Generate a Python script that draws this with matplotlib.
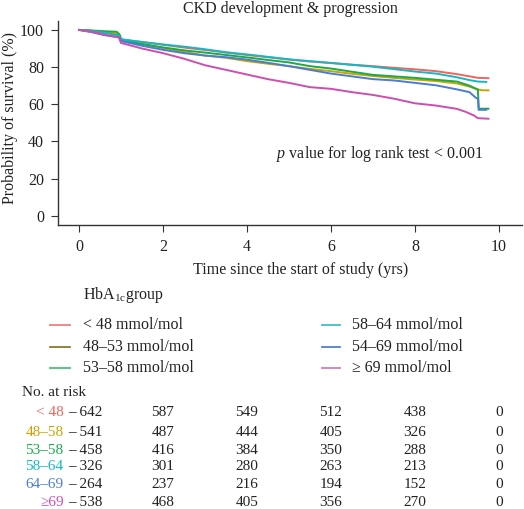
import matplotlib
matplotlib.use("Agg")
import matplotlib.pyplot as plt

plt.rcParams['font.family'] = ['Liberation Serif', 'DejaVu Serif']
plt.rcParams['mathtext.fontset'] = 'custom'
plt.rcParams['mathtext.rm'] = 'Liberation Serif'
plt.rcParams['mathtext.it'] = 'Liberation Serif:italic'

title = "CKD development & progression"
colors = ["#F0645A", "#C9A300", "#1BAA45", "#14B8C4", "#4B7BD6", "#CC4FAF"]
legend_colors = ["#F08080", "#8C7B2A", "#4CC07A", "#40C0C8", "#5080D0", "#D080C0"]
legend_labels = ["< 48 mmol/mol", "48–53 mmol/mol", "53–58 mmol/mol",
                 "58–64 mmol/mol", "54–69 mmol/mol", "≥ 69 mmol/mol"]
risk_labels = ["< 48", "48–58", "53–58", "58–64", "64–69", "≥69"]
risk_times = [0, 2, 4, 6, 8, 10]
risk_counts = [
    [642, 587, 549, 512, 438, 0],
    [541, 487, 444, 405, 326, 0],
    [458, 416, 384, 350, 288, 0],
    [326, 301, 280, 263, 213, 0],
    [264, 237, 216, 194, 152, 0],
    [538, 468, 405, 356, 270, 0],
]

# Kaplan-Meier points (time in years, survival in %)
t_red = [0, 0.3, 0.6, 0.95, 1.0, 1.5, 2.0, 2.5, 3.0, 3.5, 4.0, 4.5, 5.0, 5.5, 6.0, 6.5, 7.0, 7.5, 8.0, 8.5, 9.0, 9.3, 9.5, 9.75]
s_red = [100, 99.5, 98.5, 97.5, 94.8, 93.5, 92.0, 90.5, 89.2, 87.8, 86.5, 85.3, 84.0, 83.0, 82.2, 81.3, 80.5, 79.6, 78.8, 77.8, 76.2, 75.0, 74.2, 74.0]

t_gold = [0, 0.3, 0.6, 0.95, 1.0, 1.5, 2.0, 2.5, 3.0, 3.5, 4.0, 4.5, 5.0, 5.5, 6.0, 6.5, 7.0, 7.5, 8.0, 8.5, 9.0, 9.3, 9.5, 9.6, 9.75]
s_gold = [100, 99.5, 98.8, 98.0, 95.0, 92.5, 90.2, 88.2, 86.2, 85.0, 83.2, 81.8, 80.5, 79.0, 77.8, 76.4, 75.2, 74.2, 73.3, 72.5, 71.2, 69.5, 68.0, 67.5, 67.5]

t_green = [0, 0.3, 0.6, 0.9, 0.98, 1.0, 1.5, 2.0, 2.5, 3.0, 3.5, 4.0, 4.5, 5.0, 5.5, 6.0, 6.5, 7.0, 7.5, 8.0, 8.5, 9.0, 9.3, 9.5, 9.52, 9.75]
s_green = [100, 99.7, 99.3, 99.0, 97.0, 94.6, 92.4, 90.6, 89.0, 87.8, 86.5, 85.2, 83.8, 82.5, 80.5, 79.2, 77.5, 75.8, 75.0, 74.2, 73.2, 72.2, 70.0, 67.8, 57.6, 57.6]

t_cyan = [0, 0.3, 0.6, 0.95, 1.0, 1.5, 2.0, 2.5, 3.0, 3.5, 4.0, 4.5, 5.0, 5.5, 6.0, 6.5, 7.0, 7.5, 8.0, 8.5, 9.0, 9.3, 9.5, 9.7]
s_cyan = [100, 99.5, 98.5, 97.0, 95.0, 93.5, 92.2, 91.0, 89.6, 88.0, 86.8, 85.5, 84.2, 83.2, 82.2, 81.2, 80.2, 78.9, 77.6, 76.5, 74.5, 73.0, 72.2, 72.0]

t_blue = [0, 0.3, 0.6, 0.95, 1.0, 1.5, 2.0, 2.5, 3.0, 3.5, 4.0, 4.5, 5.0, 5.5, 6.0, 6.5, 7.0, 7.5, 8.0, 8.5, 9.0, 9.3, 9.45, 9.5, 9.52, 9.7]
s_blue = [100, 98.8, 97.2, 96.0, 94.0, 91.5, 89.3, 87.5, 86.2, 85.3, 84.0, 82.3, 80.5, 78.5, 76.5, 75.0, 73.5, 72.8, 71.5, 70.2, 68.0, 66.5, 63.5, 63.0, 57.0, 57.0]

t_pink = [0, 0.3, 0.6, 0.95, 1.0, 1.5, 2.0, 2.5, 3.0, 3.5, 4.0, 4.5, 5.0, 5.5, 6.0, 6.5, 7.0, 7.5, 8.0, 8.5, 9.0, 9.2, 9.4, 9.5, 9.75]
s_pink = [100, 99.0, 97.5, 96.0, 93.0, 90.0, 87.5, 84.5, 81.0, 78.5, 76.0, 73.5, 71.5, 69.2, 68.3, 66.5, 65.0, 63.0, 60.5, 59.3, 57.5, 56.0, 54.0, 52.5, 52.2]

curves = [(t_red, s_red), (t_gold, s_gold), (t_green, s_green),
          (t_cyan, s_cyan), (t_blue, s_blue), (t_pink, s_pink)]

W, H = 524, 509
fig = plt.figure(figsize=(W / 100, H / 100), dpi=100)
ax = fig.add_axes([58 / W, 1 - 225 / H, (522 - 58) / W, (225 - 21) / H])

for (t, s), c in zip(curves, colors):
    ax.plot(t, s, color=c, lw=1.4, solid_joinstyle='miter')

ax.set_xlim(-0.5, 10.55)
ax.set_ylim(-5, 104.8)
ax.set_xticks([0, 2, 4, 6, 8, 10])
ax.set_yticks([0, 20, 40, 60, 80, 100])
for sp in ['top', 'right']:
    ax.spines[sp].set_visible(False)
for sp in ['left', 'bottom']:
    ax.spines[sp].set_color('#333333')
    ax.spines[sp].set_linewidth(1.0)
ax.tick_params(direction='out', length=5, color='#333333', labelsize=11.5,
               labelcolor='#222222', pad=5)
ax.set_ylabel("Probability of survival (%)", fontsize=11.5, color='#222222',
              va='center', ha='center')
ax.yaxis.set_label_coords(-48 / 464, (225 - 118) / 204)
ax.set_title(title, fontsize=11.5, color='#222222', pad=6)
ax.text(4.68, 33, r"$\it{p}$ value for log rank test < 0.001", fontsize=11.5,
        color='#222222', ha='left', va='center')


def fx(px):
    return px / W


def fy(py):
    return 1 - py / H


fig.text(fx(301), fy(270), "Time since the start of study (yrs)", fontsize=11.5,
         color='#222222', ha='center', va='center')

# Legend
fig.text(fx(83), fy(295), r"HbA$_{\mathrm{1c}}$group", fontsize=11.5, color='#222222',
         ha='left', va='center')
rows_y = [325, 347, 368]
for i, (lab, c) in enumerate(zip(legend_labels, legend_colors)):
    col = i // 3
    r = i % 3
    x0, x1, xt = (50, 70, 83) if col == 0 else (322, 340, 352)
    y = rows_y[r]
    fig.add_artist(plt.Line2D([fx(x0), fx(x1)], [fy(y), fy(y)], color=c, lw=1.3,
                              transform=fig.transFigure))
    fig.text(fx(xt), fy(y), lab, fontsize=11.5, color='#222222', ha='left', va='center')

# Number at risk table
fig.text(fx(22), fy(393), "No. at risk", fontsize=11, color='#222222', ha='left', va='center')
row_ys = [413, 432, 450, 467, 485, 503]
fig.canvas.draw()
for i in range(6):
    y = fy(row_ys[i])
    t1 = fig.text(fx(102), y, "– " + str(risk_counts[i][0]), fontsize=11,
                  color='#222222', ha='right', va='center')
    bb = t1.get_window_extent(renderer=fig.canvas.get_renderer())
    fig.text((bb.x0 - 4) / W, y, risk_labels[i], fontsize=11, color=colors[i],
             ha='right', va='center')
    for j in range(1, 6):
        xpix = 79 + 42 * risk_times[j]
        fig.text(fx(xpix), y, str(risk_counts[i][j]), fontsize=11, color='#222222',
                 ha='center', va='center')

fig.savefig("out.png", dpi=100)
